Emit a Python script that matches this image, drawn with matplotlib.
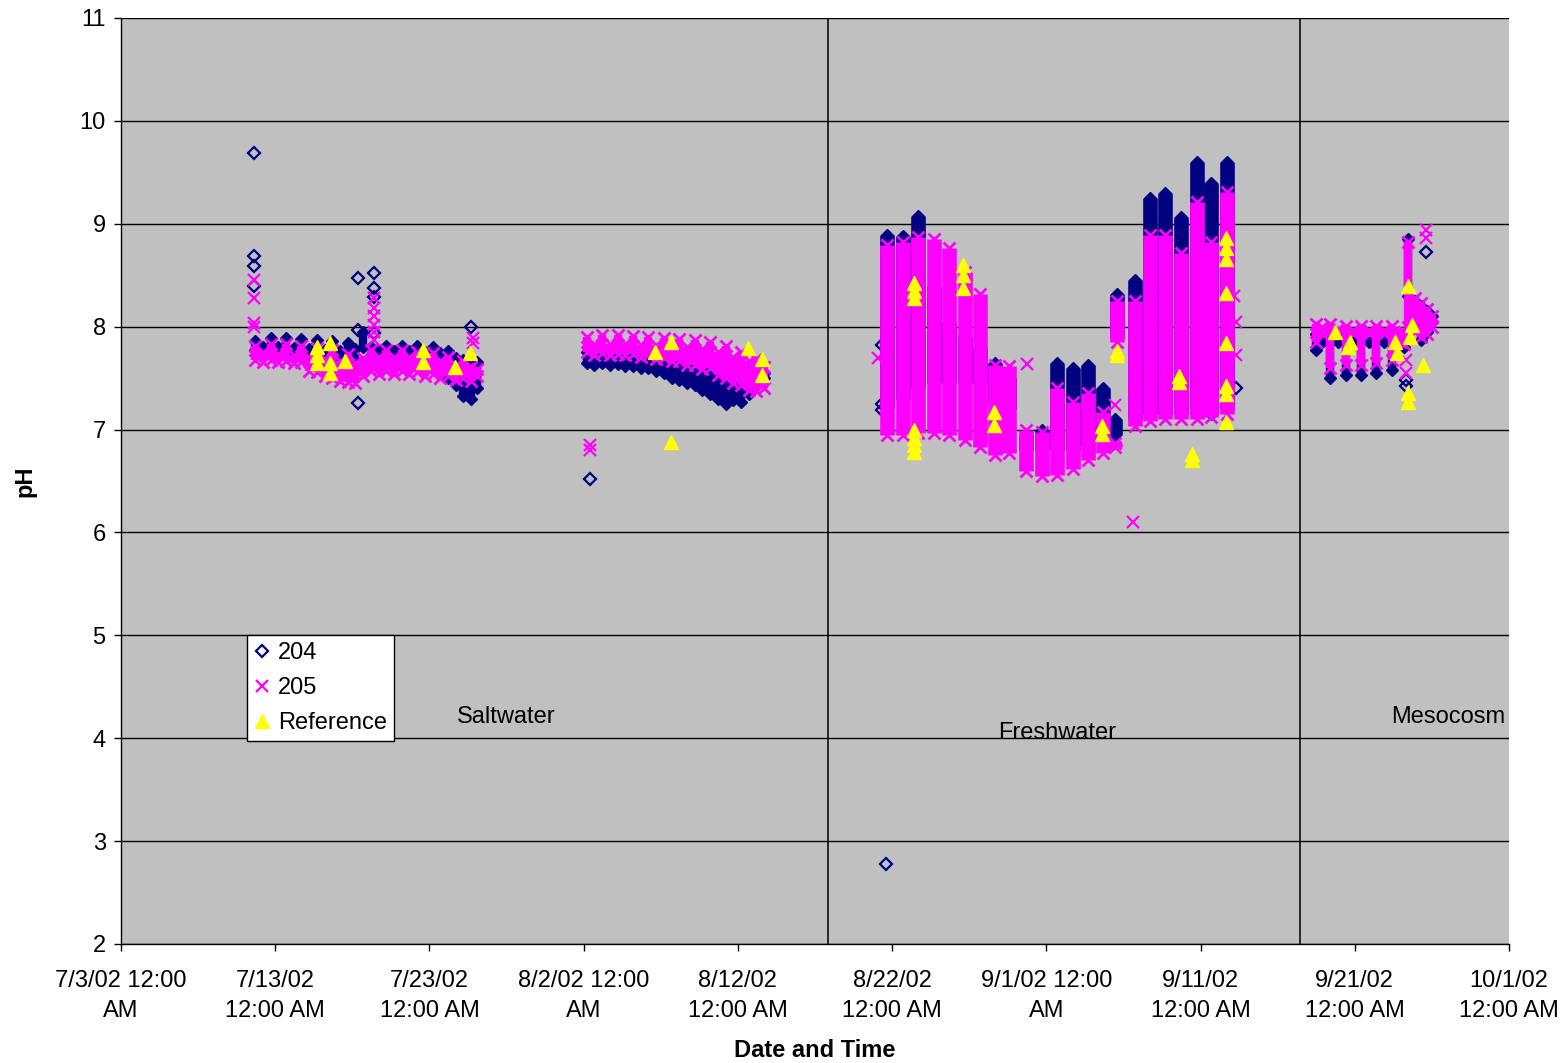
"""pH of mesocosm tanks 204/205 vs reference, Jul-Oct 2002."""

import matplotlib
matplotlib.use("Agg")
import matplotlib.pyplot as plt
from matplotlib.lines import Line2D

plt.rcParams["font.family"] = ["Liberation Sans", "DejaVu Sans"]

# x values are days since 7/3/02 12:00 AM
TICK_DAYS = [0, 10, 20, 30, 40, 50, 60, 70, 80, 90]
TICK_LABELS = [
    "7/3/02 12:00\nAM", "7/13/02\n12:00 AM", "7/23/02\n12:00 AM",
    "8/2/02 12:00\nAM", "8/12/02\n12:00 AM", "8/22/02\n12:00 AM",
    "9/1/02 12:00\nAM", "9/11/02\n12:00 AM", "9/21/02\n12:00 AM",
    "10/1/02\n12:00 AM",
]
PHASE_DAYS = [45.85, 76.46]
PHASE_NAMES = ["Saltwater", "Freshwater", "Mesocosm"]
PHASE_LABEL_POS = [(24.96, 4.21), (60.7, 4.05), (86.05, 4.21)]

# logger readings binned by half day: range (low/high) per bin, both tanks
half_day = [
    8.7, 9.2, 9.7, 10.2, 10.7, 11.2, 11.7, 12.2, 12.7, 13.2, 13.7, 14.2, 14.7, 15.2, 15.7,
    16.2, 16.7, 17.2, 17.7, 18.2, 18.7, 19.2, 19.7, 20.2, 20.7, 21.2, 21.7, 22.2, 22.7, 23.1,
    30.2, 30.7, 31.2, 31.7, 32.2, 32.7, 33.2, 33.7, 34.2, 34.7, 35.2, 35.7,
    36.2, 36.7, 37.2, 37.7, 38.2, 38.7, 39.2, 39.7, 40.2, 40.7, 41.2, 41.7,
    77.5, 77.9, 78.4, 78.9, 79.4, 79.9, 80.4, 80.9, 81.4, 81.9, 82.4, 82.9,
    83.2, 83.45, 83.9, 84.3, 84.7, 85.0,
]
h204_hi = [
    7.86, 7.80, 7.89, 7.80, 7.89, 7.79, 7.88, 7.78, 7.87, 7.77, 7.86, 7.76, 7.84, 7.78, 7.95,
    7.80, 7.76, 7.81, 7.76, 7.81, 7.76, 7.81, 7.75, 7.80, 7.74, 7.76, 7.70, 7.68, 7.68, 7.66,
    7.75, 7.75, 7.75, 7.75, 7.75, 7.74, 7.74, 7.73, 7.72, 7.70, 7.70, 7.68,
    7.66, 7.64, 7.62, 7.60, 7.58, 7.55, 7.52, 7.50, 7.50, 7.52, 7.55, 7.55,
    7.93, 7.90, 7.93, 7.90, 7.93, 7.90, 7.93, 7.90, 7.93, 7.90, 7.93, 7.90,
    7.90, 8.85, 8.25, 8.20, 8.15, 8.10,
]
h204_lo = [
    7.77, 7.75, 7.75, 7.73, 7.73, 7.71, 7.71, 7.69, 7.69, 7.67, 7.65, 7.63, 7.61, 7.60, 7.80,
    7.67, 7.67, 7.67, 7.67, 7.67, 7.65, 7.65, 7.63, 7.61, 7.55, 7.50, 7.43, 7.33, 7.30, 7.40,
    7.65, 7.63, 7.65, 7.63, 7.64, 7.62, 7.62, 7.60, 7.60, 7.57, 7.55, 7.50,
    7.48, 7.45, 7.43, 7.38, 7.35, 7.30, 7.25, 7.29, 7.27, 7.35, 7.45, 7.50,
    7.77, 7.85, 7.50, 7.85, 7.53, 7.85, 7.53, 7.85, 7.55, 7.85, 7.58, 7.85,
    7.80, 8.30, 8.00, 7.87, 7.95, 8.05,
]
h205_hi = [
    7.81, 7.75, 7.83, 7.73, 7.83, 7.72, 7.81, 7.71, 7.79, 7.69, 7.77, 7.67, 7.73, 7.65, 7.70,
    7.77, 7.71, 7.77, 7.71, 7.77, 7.71, 7.75, 7.69, 7.74, 7.67, 7.71, 7.63, 7.67, 7.61, 7.59,
    7.90, 7.83, 7.92, 7.83, 7.92, 7.83, 7.91, 7.82, 7.90, 7.82, 7.89, 7.81,
    7.88, 7.80, 7.87, 7.78, 7.85, 7.75, 7.81, 7.71, 7.75, 7.67, 7.69, 7.61,
    8.03, 8.00, 8.03, 7.98, 8.01, 7.97, 8.01, 7.97, 8.01, 7.97, 8.01, 7.95,
    7.95, 8.82, 8.28, 8.23, 8.17, 8.10,
]
h205_lo = [
    7.68, 7.66, 7.68, 7.66, 7.67, 7.65, 7.66, 7.57, 7.56, 7.52, 7.50, 7.47, 7.46, 7.45, 7.52,
    7.57, 7.54, 7.57, 7.54, 7.57, 7.54, 7.56, 7.52, 7.54, 7.50, 7.52, 7.48, 7.50, 7.47, 7.52,
    7.75, 7.72, 7.74, 7.72, 7.73, 7.72, 7.73, 7.71, 7.72, 7.69, 7.70, 7.67,
    7.67, 7.63, 7.63, 7.59, 7.60, 7.53, 7.50, 7.45, 7.43, 7.38, 7.37, 7.40,
    7.85, 7.93, 7.60, 7.93, 7.63, 7.93, 7.63, 7.93, 7.65, 7.93, 7.68, 7.85,
    7.83, 8.00, 7.95, 7.90, 7.93, 8.00,
]

# freshwater period: daily range of logger readings
fresh_day = [49.7, 50.7, 51.7, 52.7, 53.7, 54.7, 55.7, 56.7, 57.6,
             58.7, 59.7, 60.7, 61.7, 62.7, 63.7, 64.45, 64.6,
             65.75, 66.7, 67.7, 68.7, 69.8, 70.7, 71.7]
f204_hi = [8.89, 8.88, 9.08, 8.40, 8.05, 7.90, 7.80, 7.65, 7.50,
           6.95, 7.00, 7.65, 7.60, 7.63, 7.40, 7.10, 8.32,
           8.45, 9.25, 9.30, 9.07, 9.60, 9.40, 9.60]
f204_lo = [7.20, 7.30, 7.40, 7.45, 7.45, 7.45, 7.45, 7.25, 7.20,
           6.80, 6.80, 6.80, 6.80, 6.85, 6.90, 6.95, 7.90,
           7.10, 7.15, 7.15, 7.15, 7.15, 7.15, 7.20]
f205_hi = [8.79, 8.82, 8.87, 8.85, 8.76, 8.53, 8.32, 7.63, 7.62,
           7.00, 6.98, 7.40, 7.27, 7.36, 7.17, 6.87, 8.25,
           8.25, 8.89, 8.89, 8.72, 9.21, 8.82, 9.31]
f205_lo = [6.95, 6.95, 6.97, 6.97, 6.95, 6.90, 6.83, 6.75, 6.77,
           6.60, 6.55, 6.56, 6.62, 6.70, 6.77, 6.83, 7.85,
           7.03, 7.08, 7.10, 7.10, 7.10, 7.12, 7.15]

# isolated readings
p204_day = [8.62, 8.62, 8.62, 8.62, 15.37, 15.37, 15.37, 16.4, 16.4, 16.4, 16.4, 22.7,
            30.4, 49.35, 49.35, 49.35, 49.6, 72.3, 83.3, 83.3, 84.62]
p204_ph = [9.69, 8.69, 8.59, 8.40, 8.47, 7.97, 7.26, 8.52, 8.38, 8.29, 7.94, 8.00,
           6.52, 7.82, 7.25, 7.19, 2.78, 7.40, 7.42, 7.48, 8.73]
p205_day = [8.62, 8.62, 8.62, 8.62, 16.4, 16.4, 16.4, 16.4, 16.4, 16.4, 22.8, 22.8,
            30.4, 30.4, 49.1, 58.75, 64.45, 65.6, 72.3, 72.3, 72.2, 83.3, 83.3,
            84.62, 84.62]
p205_ph = [8.45, 8.28, 8.04, 8.00, 8.28, 8.18, 8.10, 8.02, 7.95, 7.87, 7.89, 7.84,
           6.85, 6.80, 7.70, 7.64, 7.24, 6.10, 8.05, 7.72, 8.30, 7.68, 7.55,
           8.94, 8.86]

# reference site grab samples
ref_day = [
    12.7, 12.7, 12.7, 13.55, 13.55, 13.55, 14.5, 19.6, 19.6, 21.65, 22.6,
    34.6, 35.66, 35.66, 40.66, 41.56, 41.56,
    51.42, 51.42, 51.42, 51.42, 51.42, 51.42, 51.42, 54.6, 54.6, 54.6, 56.6, 56.6,
    63.6, 63.6, 64.58, 64.58, 68.6, 68.6, 69.45, 69.45,
    71.65, 71.65, 71.65, 71.65, 71.65, 71.65, 71.65, 71.65,
    78.72, 79.56, 79.69, 82.61, 82.74, 83.45, 83.71, 83.58, 83.45, 83.45, 84.43,
]
ref_ph = [
    7.80, 7.72, 7.65, 7.84, 7.65, 7.55, 7.67, 7.77, 7.66, 7.61, 7.74,
    7.75, 7.85, 6.88, 7.79, 7.69, 7.53,
    8.42, 8.35, 8.28, 7.00, 6.92, 6.85, 6.78, 8.60, 8.50, 8.38, 7.17, 7.04,
    7.03, 6.96, 7.76, 7.72, 7.52, 7.46, 6.76, 6.70,
    8.86, 8.76, 8.66, 8.33, 7.84, 7.42, 7.35, 7.07,
    7.95, 7.80, 7.85, 7.85, 7.74, 8.40, 8.02, 7.90, 7.36, 7.27, 7.63,
]

NAVY = "#000080"
MAGENTA = "#FF00FF"
YELLOW = "#FFFF00"
HALF_LW = 6.0
DAY_LW = 10.5


def _draw_tank(ax, lo_hi_sets, pts, color, marker, filled):
    for days, lo, hi, lw in lo_hi_sets:
        ax.vlines(days, lo, hi, colors=color, lw=lw)
        for ends in (lo, hi):
            if filled:
                ax.plot(days, ends, ls="none", marker=marker, ms=6.3, mfc=color, mec=color)
            else:
                ax.plot(days, ends, ls="none", marker=marker, ms=8.5, mec=color, mew=2.0)
    if filled:
        ax.plot(pts[0], pts[1], ls="none", marker=marker, ms=6.3, mfc="none", mec=color, mew=1.6)
    else:
        ax.plot(pts[0], pts[1], ls="none", marker=marker, ms=8.5, mec=color, mew=1.6)


def main() -> None:
    fig = plt.figure(figsize=(15.64, 10.63), dpi=100)
    ax = fig.add_axes([121 / 1564, 1 - 944 / 1063, 1388 / 1564, 926 / 1063])
    ax.set_facecolor("#C0C0C0")
    ax.set_axisbelow(True)

    for d in PHASE_DAYS:
        ax.axvline(d, color="black", lw=1.1)

    _draw_tank(ax, [(half_day, h204_lo, h204_hi, HALF_LW), (fresh_day, f204_lo, f204_hi, DAY_LW)],
               (p204_day, p204_ph), NAVY, "D", True)
    _draw_tank(ax, [(half_day, h205_lo, h205_hi, HALF_LW), (fresh_day, f205_lo, f205_hi, DAY_LW)],
               (p205_day, p205_ph), MAGENTA, "x", False)
    ax.plot(ref_day, ref_ph, ls="none", marker="^", ms=10.5, mfc=YELLOW, mec=YELLOW)

    for name, (x, y) in zip(PHASE_NAMES, PHASE_LABEL_POS):
        ax.text(x, y, name, fontsize=17, ha="center", va="center")

    ax.set_xlim(0, 90)
    ax.set_ylim(2, 11)
    ax.set_yticks(range(2, 12))
    ax.yaxis.grid(True, color="black", lw=1)
    ax.set_xticks(TICK_DAYS)
    ax.set_xticklabels(TICK_LABELS, linespacing=1.45)
    ax.tick_params(axis="both", direction="out", length=5, width=1, labelsize=17,
                   color="black")
    ax.tick_params(axis="x", pad=14)
    ax.tick_params(axis="y", pad=6)
    for side in ("top", "right"):
        ax.spines[side].set_visible(False)
    for side in ("left", "bottom"):
        ax.spines[side].set_linewidth(1)

    ax.set_xlabel("Date and Time", fontsize=17, fontweight="bold", labelpad=12)
    ax.set_ylabel("pH", fontsize=17, fontweight="bold", labelpad=31)

    handles = [
        Line2D([], [], ls="none", marker="D", ms=6.3, mfc="none", mec=NAVY, mew=1.6),
        Line2D([], [], ls="none", marker="x", ms=8.5, mec=MAGENTA, mew=1.6),
        Line2D([], [], ls="none", marker="^", ms=10.5, mfc=YELLOW, mec=YELLOW),
    ]
    leg = ax.legend(handles, ["204", "205", "Reference"], loc="lower left",
                    bbox_to_anchor=(126 / 1388, 203 / 926), fontsize=17,
                    handlelength=0.7, handletextpad=0.3, borderpad=0.3,
                    labelspacing=0.55, borderaxespad=0, fancybox=False,
                    framealpha=1, edgecolor="black")
    leg.get_frame().set_linewidth(1)

    fig.savefig("out.png", dpi=100)
    plt.close(fig)


if __name__ == "__main__":
    main()
